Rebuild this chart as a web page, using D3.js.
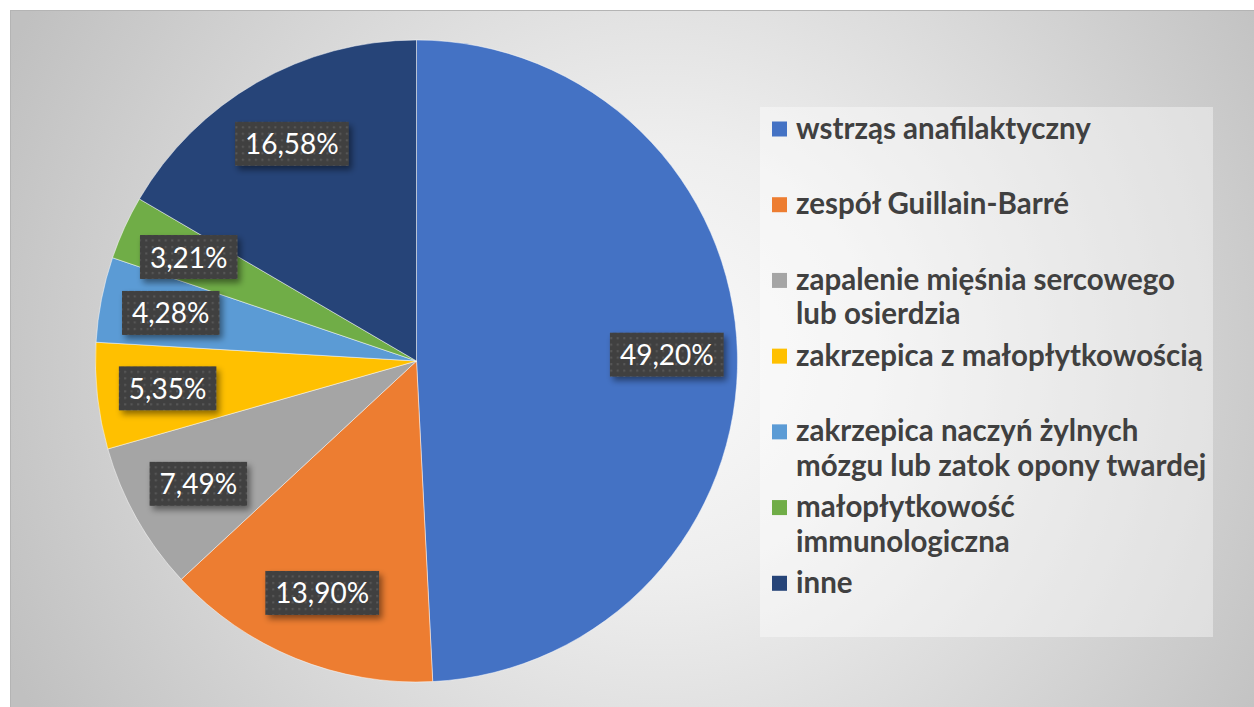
<!DOCTYPE html>
<html>
<head>
<meta charset="utf-8">
<script src="https://cdn.jsdelivr.net/npm/d3@7/dist/d3.min.js"></script>
<style>
  html, body { margin: 0; padding: 0; background: #ffffff; }
  svg { display: block; }
</style>
</head>
<body>
<svg id="chart" width="1254" height="707"></svg>
<script>
// ---- data ----
const categories = [
  "wstrząs anafilaktyczny",
  "zespół Guillain-Barré",
  "zapalenie mięśnia sercowego\nlub osierdzia",
  "zakrzepica z małopłytkowością",
  "zakrzepica naczyń żylnych\nmózgu lub zatok opony twardej",
  "małopłytkowość\nimmunologiczna",
  "inne"
];
const values = [49.20, 13.90, 7.49, 5.35, 4.28, 3.21, 16.58];
const valueLabels = ["49,20%", "13,90%", "7,49%", "5,35%", "4,28%", "3,21%", "16,58%"];
const colors = ["#4472C4", "#ED7D31", "#A5A5A5", "#FFC000", "#5B9BD5", "#70AD47", "#264478"];

// ---- layout ----
const W = 1254, H = 707;
const cx = 416.5, cy = 361, R = 321;
const svg = d3.select("#chart");
const defs = svg.append("defs");

const bg = defs.append("radialGradient").attr("id", "bg")
  .attr("gradientUnits", "userSpaceOnUse")
  .attr("cx", 660).attr("cy", 360).attr("r", 720);
bg.append("stop").attr("offset", 0).attr("stop-color", "#fafafa");
bg.append("stop").attr("offset", 0.3).attr("stop-color", "#eeeeee");
bg.append("stop").attr("offset", 1).attr("stop-color", "#c0c0c0");

const pat = defs.append("pattern").attr("id", "dots")
  .attr("patternUnits", "userSpaceOnUse").attr("width", 6.5).attr("height", 6.5);
pat.append("rect").attr("width", 6.5).attr("height", 6.5).attr("fill", "#404040");
pat.append("rect").attr("x", 2).attr("y", 2).attr("width", 2).attr("height", 2).attr("fill", "#595959");

const sh = defs.append("filter").attr("id", "shadow")
  .attr("x", "-20%").attr("y", "-30%").attr("width", "150%").attr("height", "180%");
sh.append("feDropShadow").attr("dx", 3).attr("dy", 4).attr("stdDeviation", 3)
  .attr("flood-color", "#000").attr("flood-opacity", 0.45);

// chart area
svg.append("rect").attr("x", 10.5).attr("y", 10.5).attr("width", 1260).attr("height", 720)
  .attr("fill", "url(#bg)").attr("stroke", "#b4b4b4").attr("stroke-width", 1);

// ---- pie ----
const pie = d3.pie().sort(null).value(d => d)(values);
const arc = d3.arc().innerRadius(0).outerRadius(R);
const g = svg.append("g").attr("transform", `translate(${cx},${cy})`);
g.selectAll("path.slice").data(pie).join("path")
  .attr("class", "slice")
  .attr("d", arc)
  .attr("fill", (d, i) => colors[i])
  .attr("stroke", "rgba(255,255,255,0.6)")
  .attr("stroke-width", 0.8);

// ---- labels ----
const labelArc = d3.arc().innerRadius(R * 0.78).outerRadius(R * 0.78);
const lg = g.selectAll("g.lbl").data(pie).join("g")
  .attr("class", "lbl")
  .attr("transform", d => { const c = labelArc.centroid(d); return `translate(${c[0]},${c[1]})`; });
const lt = lg.append("text")
  .attr("text-anchor", "middle")
  .attr("y", 10.5)
  .attr("font-family", "Lato, 'Open Sans', sans-serif")
  .attr("font-size", 28)
  .attr("fill", "#ffffff")
  .text((d, i) => valueLabels[i]);
lt.each(function () {
  const w = this.getComputedTextLength();
  d3.select(this.parentNode).insert("rect", "text")
    .attr("x", -w / 2 - 10).attr("y", -22)
    .attr("width", w + 20).attr("height", 44)
    .attr("fill", "url(#dots)")
    .attr("filter", "url(#shadow)");
});

// ---- legend ----
const legX = 760, legY = 107, legW = 453, legH = 530;
svg.append("rect").attr("x", legX).attr("y", legY).attr("width", legW).attr("height", legH)
  .attr("fill", "rgba(255,255,255,0.4)");
const band = d3.scaleBand().domain(d3.range(categories.length)).range([legY, legY + legH]);
const items = svg.selectAll("g.leg").data(categories).join("g")
  .attr("class", "leg")
  .attr("transform", (d, i) => `translate(${legX},${band(i) + 22})`);
items.append("rect").attr("x", 12).attr("y", -7.5).attr("width", 15).attr("height", 15)
  .attr("fill", (d, i) => colors[i]);
items.append("text")
  .attr("x", 36).attr("y", 9.5)
  .attr("font-family", "Lato, 'Open Sans', sans-serif")
  .attr("font-weight", "bold")
  .attr("font-size", 29.5)
  .attr("fill", "#404040")
  .selectAll("tspan").data(d => d.split("\n")).join("tspan")
  .attr("x", 36).attr("dy", (d, j) => j === 0 ? 0 : 34.5)
  .text(d => d);
</script>
</body>
</html>
